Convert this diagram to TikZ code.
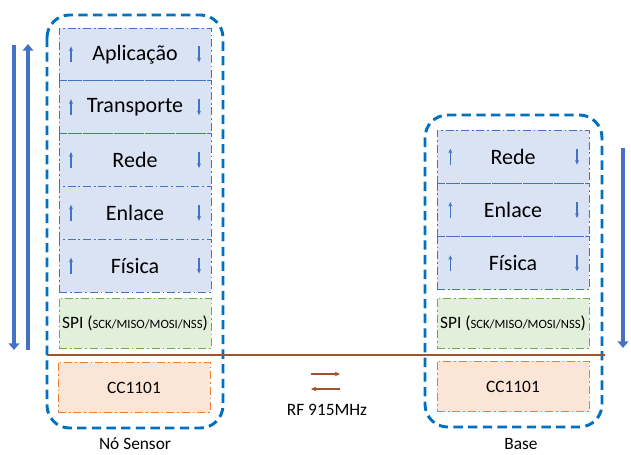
\documentclass[tikz,border=0pt]{standalone}
\usepackage{fontspec}
\setmainfont{Carlito}
\usetikzlibrary{arrows.meta}
\definecolor{layerfill}{HTML}{DAE3F3}
\definecolor{layerdraw}{HTML}{4472C4}
\definecolor{spifill}{HTML}{E2EFDA}
\definecolor{spidraw}{HTML}{70AD47}
\definecolor{ccfill}{HTML}{FBE5D6}
\definecolor{ccdraw}{HTML}{ED7D31}
\definecolor{contdraw}{HTML}{0070C0}
\definecolor{bigarrow}{HTML}{4472C4}
\definecolor{brownline}{HTML}{A0522D}
\tikzset{
  layerbox/.style={draw=layerdraw, fill=layerfill, line width=0.75pt,
    dash pattern=on 6pt off 2.2pt on 1.2pt off 2.2pt,
    minimum width=114pt, minimum height=39.6pt, inner sep=0pt,
    font=\fontsize{16.5}{18}\selectfont},
  spibox/.style={layerbox, draw=spidraw, fill=spifill, minimum height=38pt,
    font=\fontsize{13}{15}\selectfont},
  ccbox/.style={layerbox, draw=ccdraw, fill=ccfill, minimum height=38pt,
    font=\fontsize{13}{15}\selectfont},
  container/.style={draw=contdraw, line width=2.2pt, rounded corners=17pt,
    dash pattern=on 7pt off 4pt},
  small/.style={draw=layerdraw, line width=0.8pt, -{Stealth[length=3.5pt,width=3pt]}},
  big/.style={draw=bigarrow, line width=3.6pt, -{Triangle[length=5pt,width=8pt]}},
  lbl/.style={font=\fontsize{13}{15}\selectfont, inner sep=0pt},
}
\begin{document}
\begin{tikzpicture}[x=0.75pt,y=-0.75pt]
\useasboundingbox (0,0) rectangle (631,454);
% containers
\draw[container] (47,15) rectangle (223,428);
\draw[container] (425,115) rectangle (602,427);
% left stack
\node[layerbox] (apl) at (135,54.4) {Aplicação};
\node[layerbox] (tra) at (135,107.2) {Transporte};
\node[layerbox] (redeL) at (135,160) {Rede};
\node[layerbox] (enlL) at (135,212.8) {Enlace};
\node[layerbox] (fisL) at (135,265.6) {Física};
\node[spibox] (spiL) at (135,323.5) {SPI ({\fontsize{9.5}{11}\selectfont SCK/MISO/MOSI/NSS})};
\node[ccbox] (ccL) at (134,387.5) {CC1101};
% right stack
\node[layerbox] (redeR) at (513,156.7) {Rede};
\node[layerbox] (enlR) at (513,210) {Enlace};
\node[layerbox] (fisR) at (513,263.3) {Física};
\node[spibox] (spiR) at (513,323.5) {SPI ({\fontsize{9.5}{11}\selectfont SCK/MISO/MOSI/NSS})};
\node[ccbox] (ccR) at (513,386.5) {CC1101};
% small arrows
\foreach \n in {apl,tra,redeL,enlL,fisL}{
  \draw[small] ([xshift=-48pt,yshift=-6pt]\n.center) -- ([xshift=-48pt,yshift=6pt]\n.center);
  \draw[small] ([xshift=48pt,yshift=6pt]\n.center) -- ([xshift=48pt,yshift=-6pt]\n.center);
}
\foreach \n in {redeR,enlR,fisR}{
  \draw[small] ([xshift=-47pt,yshift=-6pt]\n.center) -- ([xshift=-47pt,yshift=6pt]\n.center);
  \draw[small] ([xshift=48pt,yshift=6pt]\n.center) -- ([xshift=48pt,yshift=-6pt]\n.center);
}
% big arrows
\coordinate (dTop) at (14,45);
\coordinate (dBot) at (14,350);
\coordinate (uBot) at (28,350);
\coordinate (uTop) at (28,44);
\coordinate (rTop) at (623,148);
\coordinate (rBot) at (623,348);
\draw[big] (dTop) -- (dBot);
\draw[big] (uBot) -- (uTop);
\draw[big] (rTop) -- (rBot);
% brown line
\coordinate (bl) at (47,355);
\coordinate (br) at (605,355);
\draw[brownline, line width=1.1pt] (bl) -- (br);
% RF arrows
\coordinate (rf1a) at (311,374);
\coordinate (rf1b) at (340,374);
\coordinate (rf2a) at (340,389);
\coordinate (rf2b) at (311,389);
\draw[brownline, line width=1pt, -{Stealth[length=4pt,width=3.5pt]}] (rf1a) -- (rf1b);
\draw[brownline, line width=1pt, -{Stealth[length=4pt,width=3.5pt]}] (rf2a) -- (rf2b);
\node[lbl] (rf) at (327,410) {RF 915MHz};
\node[lbl] (ns) at (135,444) {Nó Sensor};
\node[lbl] (bs) at (521,444) {Base};
\end{tikzpicture}
\end{document}
